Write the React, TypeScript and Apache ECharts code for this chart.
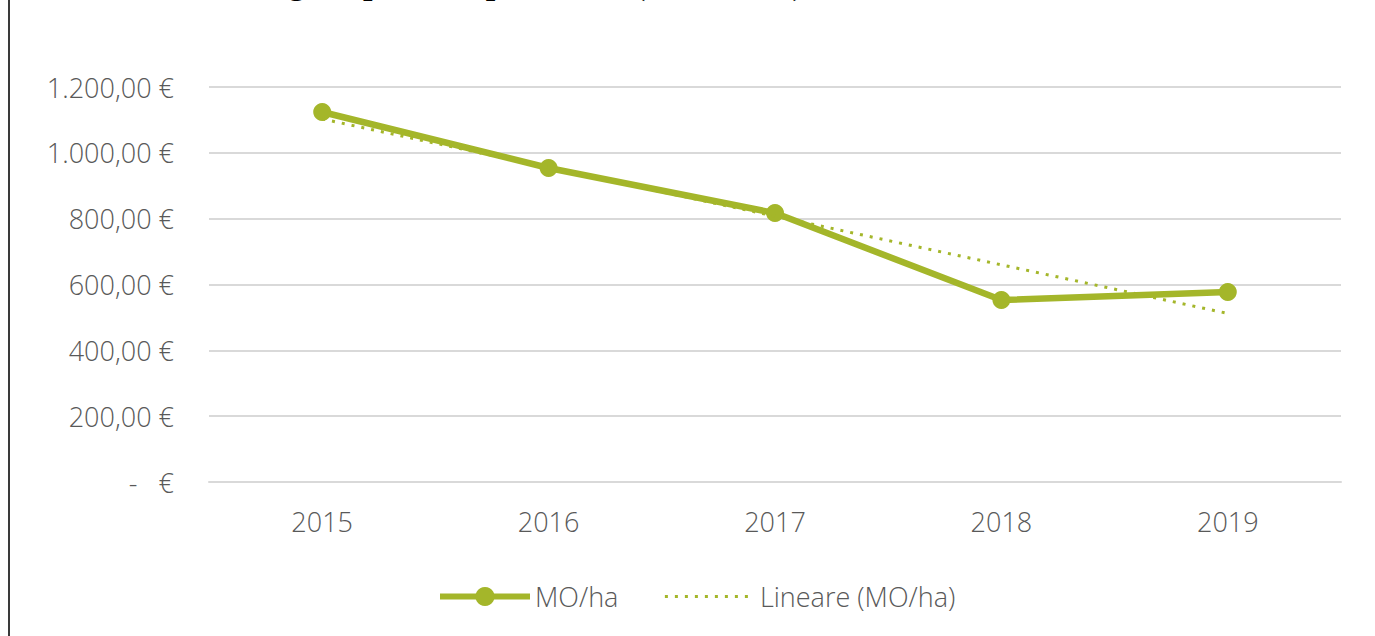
import React, { useEffect, useRef } from 'react';
import * as echarts from 'echarts';

const years = ['2015', '2016', '2017', '2018', '2019'];
const moHa = [1124, 954, 817, 553, 577];
const trendMoHa = [1103, null, null, null, 512];
const seriesNames = ['MO/ha', 'Lineare (MO/ha)'];
const titleText = 'Dettaglio spese del personale (2015-2019)';

const GREEN = '#A4B62A';
const LABEL = '#595959';
const FONT = '"Open Sans", "Noto Sans", sans-serif';

const fmtEuro = (v: number) => {
  if (v === 0) return '-   €';
  const s = String(Math.round(v)).replace(/\B(?=(\d{3})+(?!\d))/g, '.');
  return s + ',00 €';
};

export default function App() {
  const ref = useRef<HTMLDivElement>(null);
  useEffect(() => {
    if (!ref.current) return;
    const chart = echarts.init(ref.current, undefined, { renderer: 'svg' });
    chart.setOption({
      animation: false,
      backgroundColor: '#ffffff',
      grid: { left: 209, right: 34, top: 87, bottom: 154, containLabel: false },
      xAxis: {
        type: 'category',
        data: years,
        boundaryGap: true,
        axisLine: { show: true, lineStyle: { color: '#D9D9D9', width: 2 } },
        axisTick: { show: false },
        axisLabel: { color: LABEL, fontFamily: FONT, fontSize: 27, fontWeight: 300, margin: 26 },
      },
      yAxis: {
        type: 'value',
        min: 0,
        max: 1200,
        interval: 200,
        axisLine: { show: false },
        axisTick: { show: false },
        splitLine: { lineStyle: { color: '#D9D9D9', width: 2 } },
        axisLabel: {
          color: LABEL,
          fontFamily: FONT,
          fontSize: 27,
          fontWeight: 300,
          margin: 35,
          formatter: (v: number) => fmtEuro(v),
        },
      },
      legend: {
        left: 432,
        top: 578,
        itemWidth: 90,
        itemHeight: 24,
        itemGap: 45,
        textStyle: { color: LABEL, fontFamily: FONT, fontSize: 27, fontWeight: 300 },
        data: [
          { name: seriesNames[0], lineStyle: { width: 6, color: GREEN }, itemStyle: { color: GREEN } },
          {
            name: seriesNames[1],
            lineStyle: { width: 3, color: GREEN, type: [3, 7] },
            itemStyle: { opacity: 0 },
          },
        ],
      },
      graphic: [
        {
          type: 'text',
          x: 209,
          y: -17.5,
          style: {
            text: titleText,
            font: 'bold 34px "Liberation Serif", "Times New Roman", serif',
            fill: '#000000',
            verticalAlign: 'middle',
            align: 'left',
          },
        },
        {
          type: 'line',
          shape: { x1: 9, y1: 0, x2: 9, y2: 636 },
          style: { stroke: '#3a3a3a', lineWidth: 2 },
        },
      ],
      series: [
        {
          name: seriesNames[0],
          type: 'line',
          data: moHa,
          symbol: 'circle',
          symbolSize: 18,
          itemStyle: { color: GREEN },
          lineStyle: { color: GREEN, width: 6.5 },
          z: 2,
        },
        {
          name: seriesNames[1],
          type: 'line',
          data: trendMoHa,
          connectNulls: true,
          symbol: 'none',
          itemStyle: { color: GREEN },
          lineStyle: { color: GREEN, width: 3, type: [3, 7] },
          z: 3,
        },
      ],
    });
    return () => chart.dispose();
  }, []);
  return <div ref={ref} style={{ position: 'absolute', left: 0, top: 0, width: 1375, height: 636 }} />;
}
